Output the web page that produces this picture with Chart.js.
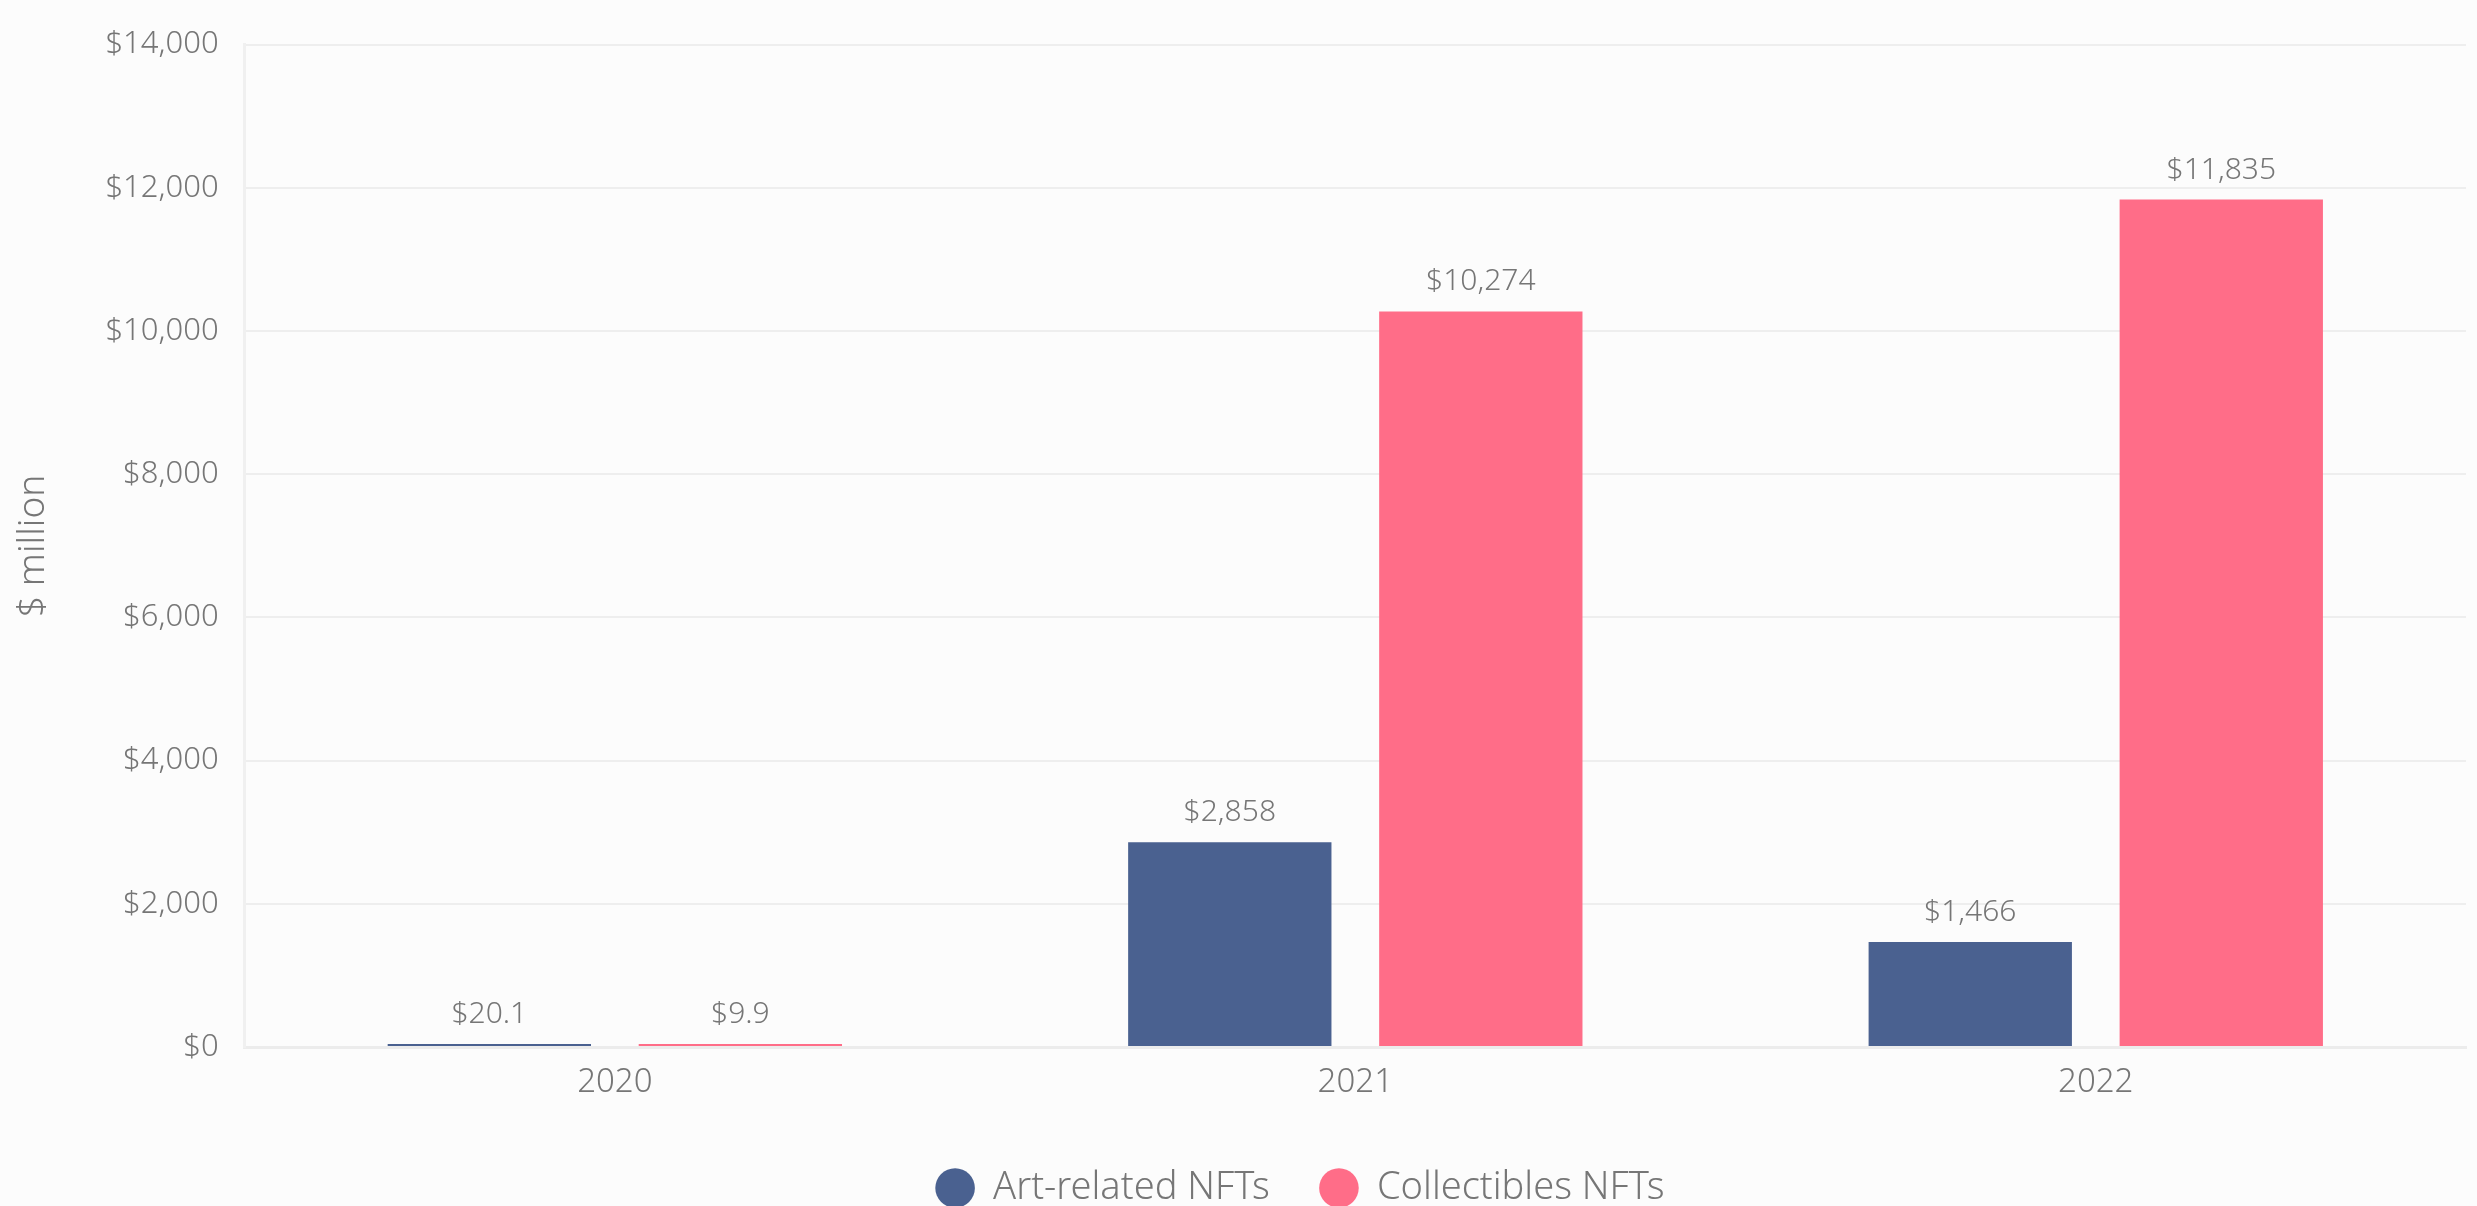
<!DOCTYPE html>
<html>
<head>
<meta charset="utf-8">
<script src="https://cdn.jsdelivr.net/npm/chart.js@4.4.1/dist/chart.umd.min.js"></script>
<style>
  html, body { margin: 0; padding: 0; background: #fcfcfc; }
  #wrap { width: 2477px; height: 1206px; }
</style>
</head>
<body>
<div id="wrap"><canvas id="nftChart" width="2477" height="1206"></canvas></div>
<script>
const years = ['2020', '2021', '2022'];
const artValues = [20.1, 2858, 1466];
const collectibleValues = [9.9, 10274, 11835];
const yTicks = [0, 2000, 4000, 6000, 8000, 10000, 12000, 14000];

const textColor = '#767676';
const fontFamily = "'Noto Sans', 'Open Sans', sans-serif";

function money(v) {
  return '$' + v.toLocaleString('en-US');
}

// draws the value above each bar
const valueLabels = {
  id: 'valueLabels',
  afterDatasetsDraw(chart) {
    const ctx = chart.ctx;
    ctx.save();
    ctx.fillStyle = textColor;
    ctx.font = '300 30px ' + fontFamily;
    ctx.textAlign = 'center';
    ctx.textBaseline = 'alphabetic';
    chart.data.datasets.forEach((ds, i) => {
      chart.getDatasetMeta(i).data.forEach((bar, j) => {
        ctx.fillText(money(ds.data[j]), bar.x, bar.y - 21);
      });
    });
    ctx.restore();
  }
};

// legend in the original sits a bit lower and left of centre
const legendNudge = {
  id: 'legendNudge',
  afterLayout(chart) {
    const lg = chart.legend;
    lg.left -= 110;
    lg.top += 11;
    lg.bottom += 11;
  }
};

new Chart(document.getElementById('nftChart'), {
  type: 'bar',
  data: {
    labels: years,
    datasets: [
      {
        label: 'Art-related NFTs',
        data: artValues,
        backgroundColor: '#4a6190',
        minBarLength: 3
      },
      {
        label: 'Collectibles NFTs',
        data: collectibleValues,
        backgroundColor: '#ff6d88',
        minBarLength: 3
      }
    ]
  },
  options: {
    responsive: false,
    maintainAspectRatio: false,
    animation: false,
    layout: { padding: { top: 21, right: 11, left: 7, bottom: 0 } },
    datasets: {
      bar: { categoryPercentage: 0.678, barPercentage: 0.81 }
    },
    plugins: {
      legend: {
        position: 'bottom',
        fullSize: false,
        labels: {
          usePointStyle: true,
          pointStyle: 'circle',
          boxHeight: 28,
          padding: 50,
          color: textColor,
          font: { family: fontFamily, size: 38, weight: '300' }
        }
      },
      tooltip: { enabled: false }
    },
    scales: {
      x: {
        grid: { display: false, drawTicks: false },
        border: { color: '#ececec', width: 3 },
        ticks: {
          color: textColor,
          padding: 16,
          font: { family: fontFamily, size: 33, weight: '300' }
        },
        afterFit(axis) {
          axis.height = 61;
        }
      },
      y: {
        min: 0,
        max: 14000,
        afterBuildTicks(axis) {
          axis.ticks = yTicks.map(v => ({ value: v }));
        },
        grid: { color: '#eeeeee', lineWidth: 2, drawTicks: false },
        border: { color: '#f0f0f0', width: 3 },
        ticks: {
          color: textColor,
          padding: 26,
          callback: v => money(v),
          font: { family: fontFamily, size: 31, weight: '300' }
        },
        title: {
          display: true,
          text: '$ million',
          color: textColor,
          padding: { top: 4, bottom: 24 },
          font: { family: fontFamily, size: 37, weight: '300' }
        }
      }
    }
  },
  plugins: [valueLabels, legendNudge]
});
</script>
</body>
</html>
